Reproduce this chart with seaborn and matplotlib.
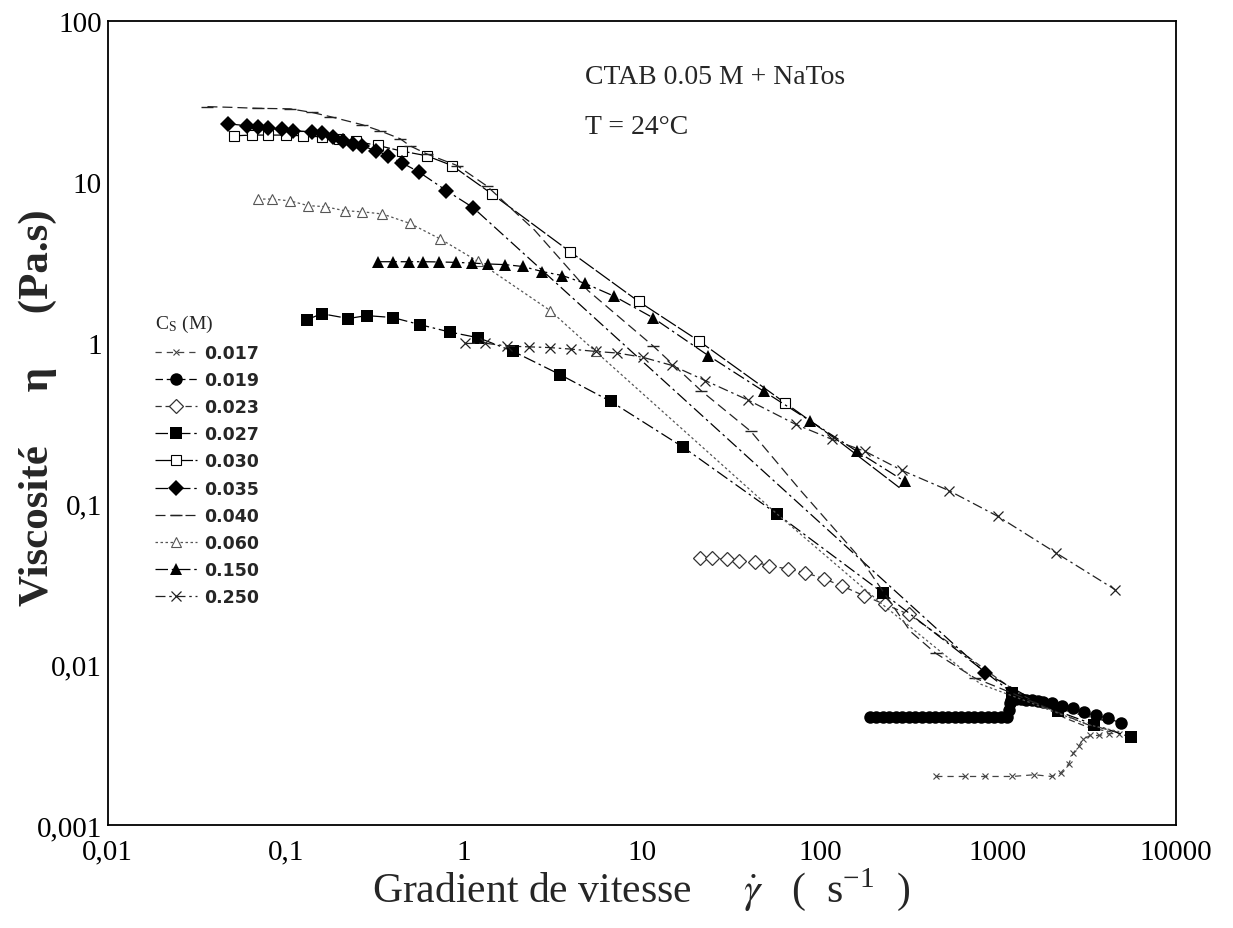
import numpy as np
import pandas as pd
import matplotlib
matplotlib.use("Agg")
import matplotlib.pyplot as plt
from matplotlib.ticker import LogLocator, FixedLocator, FixedFormatter, NullFormatter
import seaborn as sns

sns.set_theme(style="white")
plt.rcParams['font.family'] = ['Liberation Serif', 'DejaVu Serif']
plt.rcParams['mathtext.fontset'] = 'stix'

# ---- data (shear rate s-1, viscosity Pa.s) ----
x017 = [450, 650, 850, 1200, 1600, 2000, 2250, 2500, 2650, 2850, 3000, 3300, 3700, 4200, 4800]
y017 = [0.0020, 0.0020, 0.0020, 0.0020, 0.00205, 0.0020, 0.0021, 0.0024, 0.0028, 0.0031,
        0.0034, 0.0036, 0.0036, 0.0037, 0.0037]

x019 = [190, 207, 225, 245, 267, 290, 316, 344, 375, 408, 444, 483, 526, 573, 623, 678,
        738, 804, 875, 952, 1036, 1128, 1150, 1165, 1190, 1260, 1340, 1440, 1550, 1670,
        1800, 2000, 2300, 2650, 3050, 3550, 4150, 4900]
y019 = [0.0047, 0.0047, 0.0047, 0.0047, 0.0047, 0.0047, 0.0047, 0.0047, 0.0047, 0.0047,
        0.0047, 0.0047, 0.0047, 0.0047, 0.0047, 0.0047, 0.0047, 0.0047, 0.0047, 0.0047,
        0.0047, 0.0047, 0.0052, 0.0057, 0.0060, 0.0061, 0.0061, 0.0060, 0.0060, 0.0059,
        0.0058, 0.0057, 0.0055, 0.0053, 0.0050, 0.0048, 0.0046, 0.0043]

x023 = [21.3, 24.9, 30, 35, 43, 52, 66, 83, 105, 134, 176, 232, 316, 450, 650, 900,
        1250, 1750, 2400, 3300, 4300]
y023 = [0.0455, 0.0455, 0.045, 0.044, 0.043, 0.041, 0.039, 0.037, 0.034, 0.0305, 0.0267,
        0.0235, 0.0204, 0.0155, 0.0115, 0.0088, 0.0068, 0.0055, 0.0046, 0.0040, 0.0038]

x027 = [0.132, 0.160, 0.225, 0.285, 0.40, 0.57, 0.84, 1.21, 1.9, 3.49, 6.7, 17.1, 57.7,
        227, 1206, 2160, 3470, 5600]
y027 = [1.39, 1.51, 1.41, 1.47, 1.43, 1.29, 1.16, 1.07, 0.88, 0.63, 0.43, 0.223, 0.0855,
        0.0276, 0.0066, 0.0051, 0.0042, 0.0035]

x030 = [0.051, 0.065, 0.08, 0.10, 0.125, 0.16, 0.20, 0.25, 0.33, 0.45, 0.62, 0.86, 1.44,
        3.96, 9.6, 21, 64, 130, 280]
y030 = [19.3, 19.5, 19.5, 19.5, 19.3, 19.0, 18.5, 17.8, 16.8, 15.5, 14.5, 12.6, 8.4,
        3.67, 1.8, 1.02, 0.42, 0.24, 0.125]

x035 = [0.0475, 0.061, 0.07, 0.08, 0.095, 0.11, 0.141, 0.16, 0.185, 0.21, 0.24, 0.27,
        0.32, 0.375, 0.45, 0.56, 0.80, 1.13, 851, 1500, 2600, 4500]
y035 = [22.9, 22.3, 22.0, 21.5, 21.2, 20.8, 20.4, 20.0, 19.0, 18.0, 17.2, 16.7, 15.6,
        14.5, 13.1, 11.5, 8.8, 6.9, 0.0088, 0.0062, 0.0050, 0.0043]

x040 = [0.0364, 0.05, 0.07, 0.106, 0.14, 0.178, 0.27, 0.34, 0.44, 0.50, 0.62, 0.92, 1.35,
        2.5, 5.0, 11.6, 21.6, 41, 78, 170, 322, 446, 740, 1200, 2000, 3200, 4600]
y040 = [29.3, 29.0, 28.6, 28.4, 27.0, 25.4, 22.6, 20.7, 18.5, 16.7, 14.9, 12.6, 9.4,
        5.0, 2.1, 0.95, 0.50, 0.28, 0.12, 0.045, 0.016, 0.0117, 0.0082, 0.0066, 0.0052,
        0.0042, 0.0038]

x060 = [0.070, 0.084, 0.106, 0.134, 0.166, 0.215, 0.27, 0.35, 0.50, 0.74, 1.2, 3.06,
        5.5, 57.7, 230, 800, 1700, 3200, 4800]
y060 = [7.8, 7.8, 7.6, 7.1, 7.0, 6.6, 6.5, 6.3, 5.5, 4.4, 3.2, 1.58, 0.88, 0.0855,
        0.023, 0.0075, 0.0055, 0.0042, 0.0038]

x150 = [0.331, 0.40, 0.49, 0.59, 0.73, 0.91, 1.11, 1.37, 1.71, 2.15, 2.77, 3.58, 4.8,
        7.0, 11.5, 23.6, 48.5, 87.6, 162, 299]
y150 = [3.18, 3.18, 3.18, 3.18, 3.17, 3.15, 3.12, 3.08, 3.05, 2.97, 2.76, 2.61, 2.33,
        1.94, 1.43, 0.83, 0.497, 0.327, 0.21, 0.137]

x250 = [1.02, 1.32, 1.76, 2.32, 3.04, 3.99, 5.5, 7.3, 10.1, 14.8, 22.7, 39.3, 73, 117,
        180, 290, 530, 998, 2130, 4560]
y250 = [0.986, 0.99, 0.95, 0.94, 0.93, 0.91, 0.88, 0.86, 0.81, 0.72, 0.58, 0.44, 0.31,
        0.25, 0.21, 0.16, 0.12, 0.083, 0.049, 0.029]

labels = ['0.017', '0.019', '0.023', '0.027', '0.030', '0.035', '0.040', '0.060', '0.150', '0.250']
xs = [x017, x019, x023, x027, x030, x035, x040, x060, x150, x250]
ys = [y017, y019, y023, y027, y030, y035, y040, y060, y150, y250]

# marker / line style per series
styles = {
    '0.017': dict(marker='x', ms=5, ls=(0, (5, 4)), color='#444444', mew=0.8),
    '0.019': dict(marker='o', ms=9, mfc='black', ls=(0, (6, 3)), color='black', mew=0),
    '0.023': dict(marker='D', ms=7, mfc='white', ls=(0, (5, 3)), color='#333333', mew=0.9,
                  markevery=list(range(13))),
    '0.027': dict(marker='s', ms=8, mfc='black', ls=(0, (10, 3, 2, 3)), color='black', mew=0),
    '0.030': dict(marker='s', ms=6.5, mfc='white', ls=(0, (14, 2)), color='black', mew=0.8,
                  markevery=list(range(17))),
    '0.035': dict(marker='D', ms=8, mfc='black', ls=(0, (10, 3, 2, 3)), color='black', mew=0,
                  markevery=list(range(19))),
    '0.040': dict(marker='_', ms=8, ls=(0, (8, 4)), color='#222222', mew=1.0,
                  markevery=[0, 2, 3, 4, 5, 6, 7, 8, 9, 10, 11, 12, 15, 16, 17, 21, 22]),
    '0.060': dict(marker='^', ms=7.5, mfc='white', ls=(0, (2, 2)), color='#555555', mew=0.8,
                  markevery=list(range(13))),
    '0.150': dict(marker='^', ms=9, mfc='black', ls=(0, (10, 3, 2, 3)), color='black', mew=0),
    '0.250': dict(marker='x', ms=7, ls=(0, (8, 3, 2, 3)), color='#222222', mew=0.9),
}

fig = plt.figure(figsize=(12.33, 9.29), dpi=100)
ax = fig.add_axes([0.0872, 0.111, 0.8666, 0.8654])

for lab, x, y in zip(labels, xs, ys):
    df = pd.DataFrame({'x': x, 'y': y})
    st = dict(styles[lab])
    sns.lineplot(data=df, x='x', y='y', ax=ax, estimator=None, sort=False,
                 lw=0.9, label=lab, mec=st['color'], **st)

ax.set_xscale('log')
ax.set_yscale('log')
ax.set_xlim(0.01, 10000)
ax.set_ylim(0.001, 100)

xt = [0.01, 0.1, 1, 10, 100, 1000, 10000]
yt = [0.001, 0.01, 0.1, 1, 10, 100]
ax.xaxis.set_major_locator(FixedLocator(xt))
ax.xaxis.set_major_formatter(FixedFormatter(['0,01', '0,1', '1', '10', '100', '1000', '10000']))
ax.yaxis.set_major_locator(FixedLocator(yt))
ax.yaxis.set_major_formatter(FixedFormatter(['0,001', '0,01', '0,1', '1', '10', '100']))
ax.xaxis.set_minor_locator(LogLocator(base=10, subs=np.arange(2, 10)))
ax.yaxis.set_minor_locator(LogLocator(base=10, subs=np.arange(2, 10)))
ax.xaxis.set_minor_formatter(NullFormatter())
ax.yaxis.set_minor_formatter(NullFormatter())
ax.tick_params(which='major', direction='in', length=12, width=1.2, labelsize=21,
               top=False, right=False, colors='black')
ax.tick_params(which='minor', direction='in', length=6, width=0.9, top=False, right=False)
ax.tick_params(axis='x', pad=10)
ax.tick_params(axis='y', pad=4)
for sp in ax.spines.values():
    sp.set_color('black')
    sp.set_linewidth(1.3)

ax.set_xlabel(r'Gradient de vitesse     $\dot{\gamma}$   (  s$^{\mathregular{-1}}$  )', fontsize=30)
ax.set_ylabel('Viscosité     η     (Pa.s)', fontsize=31, fontweight='bold')
ax.xaxis.set_label_coords(0.5, -0.05)
ax.yaxis.set_label_coords(-0.047, 0.52)

leg = ax.legend(loc='upper left', bbox_to_anchor=(0.038, 0.645), frameon=False,
                title=r'C$_\mathregular{S}$ (M)', handlelength=2.4, labelspacing=0.53,
                handletextpad=0.4, borderaxespad=0,
                prop={'family': 'DejaVu Sans', 'weight': 'bold', 'size': 12.5})
leg.get_title().set_fontsize(14)
leg._legend_box.align = 'left'

fig.text(585 / 1233, 1 - 77 / 929, 'CTAB 0.05 M + NaTos', fontsize=20, va='center')
fig.text(585 / 1233, 1 - 127 / 929, 'T = 24°C', fontsize=20, va='center')

fig.savefig('out.png', dpi=100, facecolor='white')
